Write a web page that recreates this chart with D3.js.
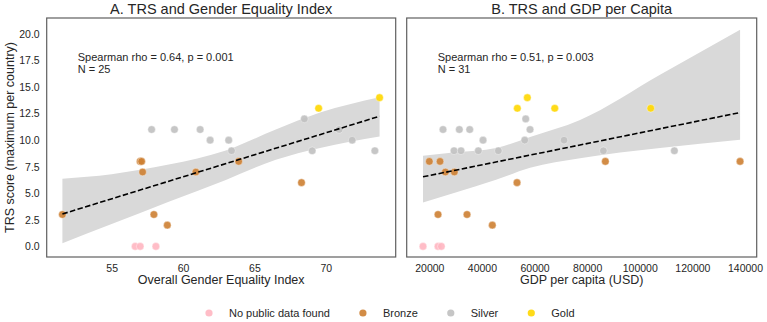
<!DOCTYPE html>
<html>
<head>
<meta charset="utf-8">
<script src="https://cdn.jsdelivr.net/npm/d3@7"></script>
<style>
body { margin: 0; background: #fff; font-family: "Liberation Sans", Arial, sans-serif; }
svg text { fill: #262626; }
</style>
</head>
<body>
<svg width="767" height="322"></svg>
<script>
// medal categories and colours
var medals = ["none", "bronze", "silver", "gold"];
var medalLabels = ["No public data found", "Bronze", "Silver", "Gold"];
var medalColors = ["#ffb6c1", "#cd7f32", "#c0c0c0", "#ffd700"];

// panel A: gender equality index vs TRS
var geiX = [56.65, 57.0, 58.1,
  51.55, 57.0, 57.1, 57.17, 57.96, 58.9, 60.9, 63.9, 68.3,
  57.8, 59.4, 61.2, 61.9, 63.2, 63.4, 68.5, 69.05, 70.94, 71.85, 73.44,
  69.5, 73.77];
var geiY = [0, 0, 0,
  3, 8, 8, 7, 3, 2, 7, 8, 6,
  11, 11, 11, 10, 10, 9, 12, 9, 11, 10, 9,
  13, 14];
var geiMedal = ["none", "none", "none",
  "bronze", "bronze", "bronze", "bronze", "bronze", "bronze", "bronze", "bronze", "bronze",
  "silver", "silver", "silver", "silver", "silver", "silver", "silver", "silver", "silver", "silver", "silver",
  "gold", "gold"];
var geiFitX = [51.55, 73.77];
var geiFitY = [3.05, 12.25];
var geiBandX = [51.55, 55, 59, 63, 66.5, 69.6, 73.77];
var geiBandLo = [0.3, 2.1, 4.2, 6.26, 8.15, 9.26, 10.35];
var geiBandHi = [6.37, 6.8, 7.7, 9.03, 11.0, 12.6, 14.05];

// panel B: GDP per capita vs TRS
var gdpX = [17600, 23310, 24560,
  20000, 24070, 26090, 29510, 53340, 23310, 34330, 43950, 86920, 138130,
  25210, 31410, 35360, 58290, 40420, 56270, 71210, 56650, 29390, 32050, 38630, 46240, 86160, 113150,
  53460, 57260, 67680, 104170];
var gdpY = [0, 0, 0,
  8, 8, 7, 7, 6, 3, 3, 2, 8, 8,
  11, 11, 11, 11, 10, 10, 10, 12, 9, 9, 9, 9, 9, 9,
  13, 14, 13, 13];
var gdpMedal = ["none", "none", "none",
  "bronze", "bronze", "bronze", "bronze", "bronze", "bronze", "bronze", "bronze", "bronze", "bronze",
  "silver", "silver", "silver", "silver", "silver", "silver", "silver", "silver", "silver", "silver", "silver", "silver", "silver", "silver",
  "gold", "gold", "gold", "gold"];
var gdpFitX = [17600, 138130];
var gdpFitY = [6.55, 12.6];
var gdpBandX = [17600, 30000, 45360, 58300, 77300, 107700, 138130];
var gdpBandLo = [4.14, 5.08, 6.27, 7.4, 8.3, 9.26, 10.04];
var gdpBandHi = [8.53, 8.85, 9.26, 10.3, 11.9, 16.15, 20.4];

var yTicks = [0, 2.5, 5, 7.5, 10, 12.5, 15, 17.5, 20];
var geiTicks = [55, 60, 65, 70];
var gdpTicks = [20000, 40000, 60000, 80000, 100000, 120000, 140000];

var svg = d3.select("svg");
var color = d3.scaleOrdinal().domain(medals).range(medalColors);

var plotTop = 18, plotBottom = 257;
var y = d3.scaleLinear().domain([-1, 21.5]).range([plotBottom, plotTop]);

function panel(opts) {
  var x = d3.scaleLinear().domain(opts.domain).range([opts.left, opts.right]);
  var g = svg.append("g");

  // confidence band
  var band = opts.bandX.map(function(v, i) { return [v, opts.bandLo[i], opts.bandHi[i]]; });
  g.append("path")
    .datum(band)
    .attr("fill", "#d9d9d9")
    .attr("d", d3.area()
      .curve(d3.curveMonotoneX)
      .x(function(d) { return x(d[0]); })
      .y0(function(d) { return y(d[1]); })
      .y1(function(d) { return y(d[2]); }));

  // points
  var pts = opts.xs.map(function(v, i) { return {x: v, y: opts.ys[i], m: opts.ms[i]}; });
  g.append("g").selectAll("circle")
    .data(pts)
    .enter().append("circle")
      .attr("cx", function(d) { return x(d.x); })
      .attr("cy", function(d) { return y(d.y); })
      .attr("r", 3.8)
      .attr("fill", function(d) { return color(d.m); })
      .attr("fill-opacity", 0.9)
      .attr("stroke", "#fff")
      .attr("stroke-width", 0.4);

  // fitted line
  g.append("path")
    .datum(opts.fitX.map(function(v, i) { return [v, opts.fitY[i]]; }))
    .attr("fill", "none")
    .attr("stroke", "#000")
    .attr("stroke-width", 1.6)
    .attr("stroke-dasharray", "5.5,2.4")
    .attr("d", d3.line().x(function(d) { return x(d[0]); }).y(function(d) { return y(d[1]); }));

  // frame
  g.append("rect")
    .attr("x", opts.left).attr("y", plotTop)
    .attr("width", opts.right - opts.left).attr("height", plotBottom - plotTop)
    .attr("fill", "none").attr("stroke", "#5f5f5f").attr("stroke-width", 1.2);

  // x axis
  var xa = g.append("g")
    .attr("transform", "translate(0," + plotBottom + ")")
    .call(d3.axisBottom(x).tickValues(opts.ticks).tickSize(0).tickPadding(8).tickFormat(d3.format("d")));
  xa.select(".domain").remove();
  xa.selectAll("text").attr("font-size", 10.5).attr("font-family", "Liberation Sans, Arial, sans-serif").style("fill", "#262626");

  if (opts.yAxis) {
    var ya = g.append("g")
      .attr("transform", "translate(" + opts.left + ",0)")
      .call(d3.axisLeft(y).tickValues(yTicks).tickSize(0).tickPadding(7).tickFormat(d3.format(".1f")));
    ya.select(".domain").remove();
    ya.selectAll("text").attr("font-size", 10.5).attr("font-family", "Liberation Sans, Arial, sans-serif").style("fill", "#262626");
  }

  g.append("text")
    .attr("x", (opts.left + opts.right) / 2).attr("y", 284)
    .attr("text-anchor", "middle").attr("font-size", 12.5)
    .text(opts.xLabel);

  g.append("text")
    .attr("x", (opts.left + opts.right) / 2).attr("y", 14)
    .attr("text-anchor", "middle").attr("font-size", 14.5)
    .text(opts.title);

  var ann = g.append("text").attr("font-size", 11).attr("x", opts.left + 31);
  ann.append("tspan").attr("x", opts.left + 31).attr("y", 61).text(opts.stat);
  ann.append("tspan").attr("x", opts.left + 31).attr("y", 73).text(opts.n);
}

panel({
  left: 46.7, right: 395.7, domain: [50.45, 74.9],
  xs: geiX, ys: geiY, ms: geiMedal,
  fitX: geiFitX, fitY: geiFitY,
  bandX: geiBandX, bandLo: geiBandLo, bandHi: geiBandHi,
  ticks: geiTicks, yAxis: true,
  xLabel: "Overall Gender Equality Index",
  title: "A. TRS and Gender Equality Index",
  stat: "Spearman rho = 0.64, p = 0.001", n: "N = 25"
});

panel({
  left: 406.7, right: 756.7, domain: [11400, 144450],
  xs: gdpX, ys: gdpY, ms: gdpMedal,
  fitX: gdpFitX, fitY: gdpFitY,
  bandX: gdpBandX, bandLo: gdpBandLo, bandHi: gdpBandHi,
  ticks: gdpTicks, yAxis: false,
  xLabel: "GDP per capita (USD)",
  title: "B. TRS and GDP per Capita",
  stat: "Spearman rho = 0.51, p = 0.003", n: "N = 31"
});

// y label
svg.append("text")
  .attr("transform", "translate(14," + (plotTop + plotBottom) / 2 + ") rotate(-90)")
  .attr("text-anchor", "middle").attr("font-size", 12.5)
  .text("TRS score (maximum per country)");

// legend
var legend = svg.append("g").attr("transform", "translate(0,313)");
var lx = 209;
medals.forEach(function(m, i) {
  legend.append("circle").attr("cx", lx).attr("cy", 0).attr("r", 3.6)
    .attr("fill", color(m)).attr("fill-opacity", 0.9);
  var t = legend.append("text").attr("x", lx + 20).attr("y", 4)
    .attr("font-size", 11).text(medalLabels[i]);
  lx += 20 + t.node().getComputedTextLength() + 33;
});
</script>
</body>
</html>
